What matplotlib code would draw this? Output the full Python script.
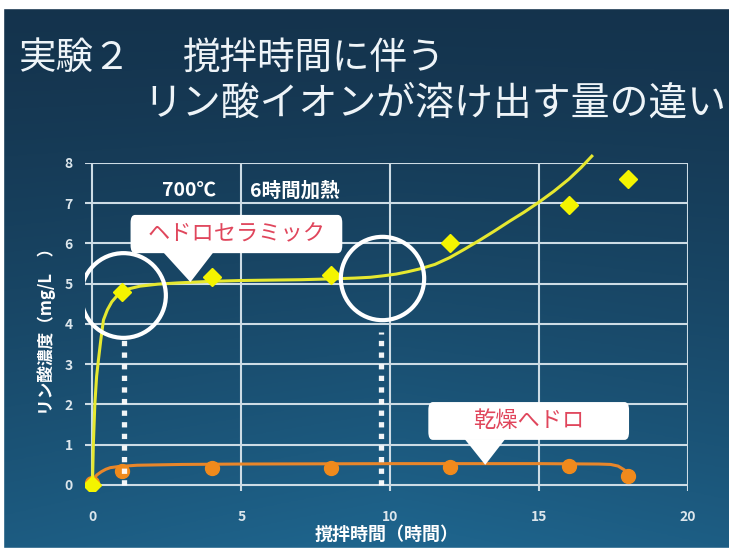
import numpy as np
import matplotlib
matplotlib.use("Agg")
import matplotlib.pyplot as plt
from matplotlib.patches import FancyBboxPatch, Polygon, Rectangle

plt.rcParams['font.family'] = ['Noto Sans CJK JP', 'DejaVu Sans']

# measured points
hours = [0, 1, 4, 8, 12, 16, 18]
ceramic = [0.0, 4.8, 5.17, 5.22, 6.0, 6.95, 7.6]
dried = [0.05, 0.35, 0.42, 0.42, 0.45, 0.47, 0.22]

# trend lines
ceramic_fit_x = [0, 0.03, 0.08, 0.14, 0.2, 0.28, 0.37, 0.5, 0.65, 0.8, 0.94, 1.2,
                 1.6, 2.2, 2.85, 4, 5, 6, 7, 8, 8.8, 9.33, 9.8, 10.2, 10.6,
                 11.0, 11.5, 12.0, 12.5, 13.0, 13.5, 14.0, 14.5, 15.0, 15.5,
                 16.0, 16.4, 16.77]
ceramic_fit_y = [0, 1.0, 2.0, 2.7, 3.1, 3.6, 4.1, 4.35, 4.55, 4.68, 4.77, 4.87,
                 4.94, 4.99, 5.02, 5.06, 5.08, 5.09, 5.1, 5.12, 5.14, 5.16, 5.2,
                 5.24, 5.3, 5.37, 5.48, 5.65, 5.86, 6.08, 6.31, 6.55, 6.78, 7.03,
                 7.3, 7.6, 7.88, 8.17]
dried_fit_x = [0, 0.15, 0.3, 0.45, 0.6, 0.9, 1.5, 3, 5, 10, 15, 17, 17.4, 17.65,
               17.85, 18.0]
dried_fit_y = [0.12, 0.25, 0.33, 0.39, 0.43, 0.46, 0.49, 0.51, 0.52, 0.53, 0.53,
               0.52, 0.51, 0.47, 0.38, 0.25]

x_ticks = [0, 5, 10, 15, 20]
y_ticks = [0, 1, 2, 3, 4, 5, 6, 7, 8]

W, H = 729, 550
fig = plt.figure(figsize=(W / 100, H / 100), dpi=100)

# background gradient
bg = fig.add_axes([0, 0, 1, 1])
yy, xx = np.mgrid[0:1:200j, 0:1:200j]
top = np.array([0.08, 0.20, 0.30])
bottom = np.array([0.12, 0.40, 0.56])
t = yy ** 1.3 * (1 - 0.35 * np.abs(xx - 0.55))
img = top[None, None, :] * (1 - t[..., None]) + bottom[None, None, :] * t[..., None]
bg.imshow(img, extent=[0, 1, 0, 1], origin='upper', aspect='auto')
bg.set_xlim(0, 1)
bg.set_ylim(0, 1)
bg.axis('off')
# white page margins
bg.add_patch(Rectangle((0, 1 - 8 / H), 1, 8 / H, color='white', zorder=5))
bg.add_patch(Rectangle((0, 0), 3 / W, 1, color='white', zorder=5))
bg.add_patch(Rectangle((0, 0), 1, 2 / H, color='white', zorder=5))

# title
fig.text(18 / W, 1 - 58 / H, '実験２', color='#eef4f8', fontsize=27, va='center')
fig.text(183 / W, 1 - 58 / H, '撹拌時間に伴う', color='#eef4f8', fontsize=27, va='center')
fig.text(143 / W, 1 - 104 / H, 'リン酸イオンが溶け出す量の違い', color='#eef4f8',
         fontsize=28, va='center')

ax = fig.add_axes([85 / W, (H - 491) / H, 603 / W, (491 - 163) / H])
ax.set_facecolor('none')
ax.set_xlim(-0.25, 20)
ax.set_ylim(-0.15, 8)
for s in ax.spines.values():
    s.set_visible(False)

grid_c = '#cddce5'
ax.hlines(y_ticks, -0.25, 20, color=grid_c, lw=1.5, zorder=1)
ax.vlines(x_ticks, -0.15, 8, color=grid_c, lw=1.5, zorder=1)

ax.set_xticks(x_ticks)
ax.set_yticks(y_ticks)
ax.tick_params(length=0, colors='#dce6ec', labelsize=10)
ax.tick_params(axis='x', pad=14)
ax.tick_params(axis='y', pad=9)
for lab in ax.get_xticklabels() + ax.get_yticklabels():
    lab.set_fontweight('bold')

ax.set_xlabel('撹拌時間（時間）', color='white', fontsize=13, fontweight='bold',
              labelpad=0)
ax.set_ylabel('リン酸濃度（mg/L　）', color='white', fontsize=12,
              fontweight='bold', labelpad=6)

# series
ax.plot(dried_fit_x, dried_fit_y, color='#e8862a', lw=2.2, zorder=3)
ax.plot(hours, dried, 'o', color='#f08a1c', ms=10, zorder=4)

# dotted markers of the time points
ax.plot([1.05, 1.05], [0, 3.65], color='white', lw=3.8, ls=(0, (1, 1.2)),
        solid_capstyle='butt', zorder=4.5, alpha=0.95)
ax.plot([9.7, 9.7], [0, 3.8], color='white', lw=3.8, ls=(0, (1, 1.2)),
        solid_capstyle='butt', zorder=4.5, alpha=0.95)

ax.plot(ceramic_fit_x, ceramic_fit_y, color='#e6e830', lw=2.2, zorder=5,
        clip_on=False)
ax.plot(hours, ceramic, 'D', color='#f4f400', ms=9, zorder=6)

# circles
ax.plot([1.02], [4.72], 'o', ms=61, mfc='none', mec='white', mew=3, zorder=7)
ax.plot([9.74], [5.14], 'o', ms=60, mfc='none', mec='white', mew=3, zorder=7)

ax.text(2.35, 7.3, '700℃', color='white', fontsize=14, fontweight='bold',
        va='center', ha='left')
ax.text(5.3, 7.3, '6時間加熱', color='white', fontsize=14, fontweight='bold',
        va='center', ha='left')


def callout(x0, x1, y0, y1, tip, base, label):
    box = FancyBboxPatch((x0, y0), x1 - x0, y1 - y0,
                         boxstyle='round,pad=0,rounding_size=0.15',
                         mutation_aspect=1.3, fc='white', ec='none', zorder=8)
    ax.add_patch(box)
    ax.add_patch(Polygon([(base[0], y0 + 0.02), (base[1], y0 + 0.02), tip],
                         closed=True, fc='white', ec='none', zorder=8))
    ax.text((x0 + x1) / 2, (y0 + y1) / 2, label, color='#e0465c', fontsize=16,
            ha='center', va='center', zorder=9)


callout(1.28, 8.39, 5.76, 6.71, (3.29, 5.04), (2.38, 4.06), 'ヘドロセラミック')
callout(11.28, 18.02, 1.12, 2.06, (13.19, 0.5), (12.5, 13.86), '乾燥へドロ')

fig.savefig('out.png', dpi=100)
